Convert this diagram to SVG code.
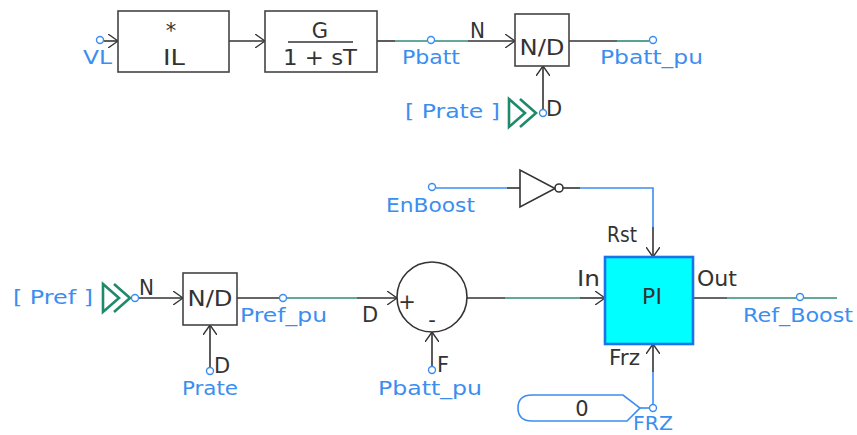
<svg xmlns="http://www.w3.org/2000/svg" width="857" height="435" viewBox="0 0 857 435">
<style>
.blk{stroke:#333;stroke-width:1.6;fill:none}
.tl{stroke:#2e8b7a;stroke-width:1.6;fill:none}
.bl{stroke:#3b8ef0;stroke-width:1.6;fill:none}
.box{stroke:#444;stroke-width:1.6;fill:#fff}
.port{stroke:#3b8ef0;stroke-width:1.4;fill:#fff}
.chev{stroke:#1f8a6a;stroke-width:2.6;fill:none;stroke-linejoin:miter}
.bt{font-family:"DejaVu Sans",Verdana,sans-serif;font-size:20px;fill:#3b8ef0}
.kt{font-family:"DejaVu Sans",Verdana,sans-serif;font-size:21px;fill:#333}
.ct{font-family:"DejaVu Sans",Verdana,sans-serif;font-size:21px;fill:#333;text-anchor:middle}
</style>
<defs>
<marker id="arr" viewBox="0 0 10 14" refX="10" refY="7" markerWidth="10" markerHeight="14" markerUnits="userSpaceOnUse" orient="auto">
<path d="M0,0 L10,7 L0,14" stroke="#333" stroke-width="1.4" fill="none"/>
</marker>
</defs>
<rect width="857" height="435" fill="#fff"/>

<g id="connectors">
<line class="blk" x1="103" y1="41" x2="118" y2="41" marker-end="url(#arr)"/>
<line class="blk" x1="229" y1="41" x2="265" y2="41" marker-end="url(#arr)"/>
<line class="blk" x1="377" y1="41" x2="395" y2="41"/>
<line class="tl" x1="395" y1="41" x2="468" y2="41"/>
<line class="blk" x1="468" y1="41" x2="515" y2="41" marker-end="url(#arr)"/>
<line class="blk" x1="569" y1="41" x2="617" y2="41"/>
<line class="tl" x1="617" y1="41" x2="649" y2="41"/>
<line class="blk" x1="543" y1="109" x2="543" y2="66" marker-end="url(#arr)"/>

<line class="blk" x1="139" y1="298" x2="183" y2="298" marker-end="url(#arr)"/>
<line class="blk" x1="237" y1="298" x2="279" y2="298"/>
<line class="tl" x1="287" y1="298" x2="357" y2="298"/>
<line class="blk" x1="357" y1="298" x2="397" y2="298" marker-end="url(#arr)"/>
<line class="blk" x1="210" y1="367" x2="210" y2="325" marker-end="url(#arr)"/>
<line class="blk" x1="432" y1="366" x2="432" y2="332" marker-end="url(#arr)"/>
<line class="blk" x1="467" y1="298" x2="505" y2="298"/>
<line class="tl" x1="505" y1="298" x2="580" y2="298"/>
<line class="blk" x1="580" y1="298" x2="605" y2="298" marker-end="url(#arr)"/>

<line class="bl" x1="436" y1="188" x2="507" y2="188"/>
<line class="blk" x1="507" y1="188" x2="520" y2="188"/>
<line class="blk" x1="563" y1="188" x2="580" y2="188"/>
<polyline class="bl" points="580,188 653,188 653,227"/>
<line class="blk" x1="653" y1="227" x2="653" y2="257" marker-end="url(#arr)"/>

<line class="blk" x1="693" y1="298" x2="727" y2="298"/>
<line class="tl" x1="727" y1="298" x2="837" y2="298"/>

<line class="bl" x1="653" y1="404" x2="653" y2="372"/>
<line class="blk" x1="653" y1="372" x2="653" y2="344" marker-end="url(#arr)"/>
<line class="bl" x1="640" y1="408" x2="649" y2="408"/>
</g>

<g id="VL">
<circle class="port" cx="100" cy="40" r="3.5"/>
<text class="bt" x="83" y="64" textLength="29" lengthAdjust="spacingAndGlyphs">VL</text>
</g>

<g id="mult">
<rect class="box" x="118" y="11" width="111" height="61"/>
<text class="ct" x="171" y="38">*</text>
<text class="ct" x="174" y="65" textLength="22" lengthAdjust="spacingAndGlyphs">IL</text>
</g>

<g id="lag">
<rect class="box" x="265" y="11" width="112" height="61"/>
<text class="ct" x="320" y="38">G</text>
<line class="blk" x1="288" y1="42" x2="353" y2="42"/>
<text class="ct" x="320" y="65" textLength="74" lengthAdjust="spacingAndGlyphs">1 + sT</text>
</g>

<g id="Pbatt">
<circle class="port" cx="431" cy="40" r="3.5"/>
<text class="bt" x="402" y="64" textLength="58" lengthAdjust="spacingAndGlyphs">Pbatt</text>
</g>

<g id="div1">
<text class="kt" x="470" y="38" textLength="15" lengthAdjust="spacingAndGlyphs">N</text>
<rect class="box" x="515" y="14" width="54" height="52"/>
<text class="ct" x="542" y="55" style="font-size:22px" textLength="45" lengthAdjust="spacingAndGlyphs">N/D</text>
<text class="kt" x="546" y="116">D</text>
</g>

<g id="Pbatt_pu_out">
<circle class="port" cx="653" cy="40" r="3.5"/>
<text class="bt" x="600" y="64" textLength="103" lengthAdjust="spacingAndGlyphs">Pbatt_pu</text>
</g>

<g id="Prate_in">
<text class="bt" x="405" y="118" textLength="95" lengthAdjust="spacingAndGlyphs">[ Prate ]</text>
<polygon class="chev" points="509,99 525,113 509,127"/>
<polyline class="chev" points="520,99 536,113 520,127"/>
<circle class="port" cx="543" cy="113" r="3.5"/>
</g>

<g id="Pref_in">
<text class="bt" x="13" y="304" textLength="80" lengthAdjust="spacingAndGlyphs">[ Pref ]</text>
<polygon class="chev" points="103,284 119,298 103,312"/>
<polyline class="chev" points="114,284 130,298 114,312"/>
<circle class="port" cx="135" cy="298" r="3.5"/>
</g>

<g id="div2">
<text class="kt" x="139" y="295" textLength="15" lengthAdjust="spacingAndGlyphs">N</text>
<rect class="box" x="183" y="273" width="54" height="52"/>
<text class="ct" x="210" y="306" style="font-size:22px" textLength="45" lengthAdjust="spacingAndGlyphs">N/D</text>
<text class="kt" x="214" y="373">D</text>
</g>

<g id="Pref_pu">
<circle class="port" cx="283" cy="298" r="3.5"/>
<text class="bt" x="240" y="322" textLength="87" lengthAdjust="spacingAndGlyphs">Pref_pu</text>
</g>

<g id="Prate">
<circle class="port" cx="210" cy="371" r="3.5"/>
<text class="bt" x="182" y="395" textLength="56" lengthAdjust="spacingAndGlyphs">Prate</text>
</g>

<g id="summer">
<text class="kt" x="362" y="322">D</text>
<circle cx="432" cy="297" r="35" fill="#fff" stroke="#333" stroke-width="1.6"/>
<text class="ct" x="407" y="309">+</text>
<text class="ct" x="432" y="327">-</text>
<text class="kt" x="437" y="372">F</text>
</g>

<g id="Pbatt_pu_in">
<circle class="port" cx="432" cy="370" r="3.5"/>
<text class="bt" x="378" y="395" textLength="104" lengthAdjust="spacingAndGlyphs">Pbatt_pu</text>
</g>

<g id="EnBoost">
<circle class="port" cx="432" cy="187" r="3.5"/>
<text class="bt" x="386" y="212" textLength="89" lengthAdjust="spacingAndGlyphs">EnBoost</text>
</g>

<g id="inverter">
<polygon points="520,170 520,207 555,188.5" fill="#fff" stroke="#333" stroke-width="1.6"/>
<circle cx="559" cy="188" r="4" fill="#fff" stroke="#333" stroke-width="1.6"/>
</g>

<g id="PI">
<rect x="605" y="257" width="88" height="87" fill="#00ffff" stroke="#1a73e8" stroke-width="2.6"/>
<text class="ct" x="652" y="304" style="font-size:22px">PI</text>
<text class="kt" x="607" y="242" textLength="30" lengthAdjust="spacingAndGlyphs">Rst</text>
<text class="kt" x="577" y="286" textLength="23" lengthAdjust="spacingAndGlyphs">In</text>
<text class="kt" x="697" y="286" textLength="40" lengthAdjust="spacingAndGlyphs">Out</text>
<text class="kt" x="609" y="365" textLength="31" lengthAdjust="spacingAndGlyphs">Frz</text>
</g>

<g id="Ref_Boost">
<circle class="port" cx="800" cy="297" r="3.5"/>
<text class="bt" x="743" y="322" textLength="110" lengthAdjust="spacingAndGlyphs">Ref_Boost</text>
</g>

<g id="const0">
<path d="M532,395 L623,395 L640,408 L627,421 L532,421 Q518,421 518,408 Q518,395 532,395 Z" fill="#fff" stroke="#3b8ef0" stroke-width="1.6"/>
<text class="ct" x="582" y="416">0</text>
</g>

<g id="FRZ">
<circle class="port" cx="653" cy="408" r="3.5"/>
<text class="bt" x="633" y="430" textLength="40" lengthAdjust="spacingAndGlyphs">FRZ</text>
</g>
</svg>
